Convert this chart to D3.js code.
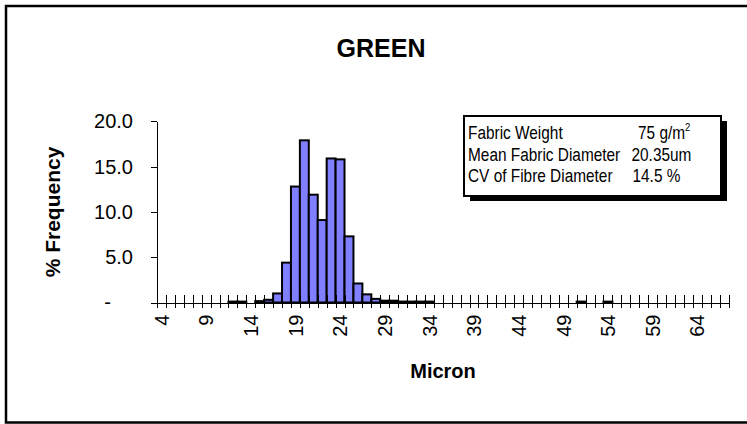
<!DOCTYPE html>
<html>
<head>
<meta charset="utf-8">
<script src="https://cdn.jsdelivr.net/npm/d3@7"></script>
<style>
  html, body { margin: 0; padding: 0; background: #fff; }
  svg { display: block; font-family: "Liberation Sans", Arial, Helvetica, sans-serif; }
</style>
</head>
<body>
<svg id="chart" width="747" height="424"></svg>
<script>
// ---- data ----
const categories = [4,5,6,7,8,9,10,11,12,13,14,15,16,17,18,19,20,21,22,23,24,25,26,27,28,29,30,31,32,33,34,35,
  36,37,38,39,40,41,42,43,44,45,46,47,48,49,50,51,52,53,54,55,56,57,58,59,60,61,62,63,64,65,66,67];
const frequency = [0,0,0,0,0,0,0,0,0.1,0.1,0,0.15,0.3,1.0,4.4,12.8,17.9,11.9,9.1,15.9,15.8,7.3,2.1,0.9,0.4,0.2,0.2,0.1,0.1,0.1,0.1,0,
  0,0,0,0,0,0,0,0,0,0,0,0,0,0,0,0.1,0,0,0.1,0,0,0,0,0,0,0,0,0,0,0,0,0];
const xTickLabels = [4,9,14,19,24,29,34,39,44,49,54,59,64];
const yTicks = [0,5,10,15,20];
const chartTitle = "GREEN";
const xTitle = "Micron";
const yTitle = "% Frequency";
const infoLabels = ["Fabric Weight", "Mean Fabric Diameter", "CV of Fibre Diameter"];
const infoValues = ["75 g/m", "20.35um", "14.5 %"];

// ---- layout ----
const svg = d3.select("#chart");
const pLeft = 157, pRight = 728.5, pTop = 121.3, pBottom = 302.5;

// frame
svg.append("rect").attr("x", 6).attr("y", 6).attr("width", 780).attr("height", 416.5)
  .attr("fill", "none").attr("stroke", "#000").attr("stroke-width", 2.5);

const x = d3.scaleBand().domain(categories).range([pLeft, pRight]).padding(0);
const xb = d3.scaleLinear().domain([0, categories.length]).range([pLeft, pRight]);
const y = d3.scaleLinear().domain([0, 20]).range([pBottom, pTop]);

// bars
svg.append("g").selectAll("rect")
  .data(categories.map((c, i) => ({c, v: frequency[i]})).filter(d => d.v > 0))
  .join("rect")
  .attr("x", d => x(d.c))
  .attr("width", x.bandwidth())
  .attr("y", d => y(d.v))
  .attr("height", d => y(0) - y(d.v))
  .attr("fill", "#7f7fff")
  .attr("stroke", "#000")
  .attr("stroke-width", 2);

// y axis
const yAxis = svg.append("g").attr("transform", `translate(${pLeft},0)`)
  .call(d3.axisLeft(y).tickValues(yTicks).tickSize(6).tickSizeOuter(0).tickPadding(18)
    .tickFormat(d => d === 0 ? "-" : d.toFixed(1)));
yAxis.selectAll("text").attr("font-size", 20).attr("font-family", "Liberation Sans, Arial, sans-serif")
  .attr("fill", "#000")
  .filter(d => d === 0).attr("x", -46);
yAxis.selectAll("line, path").attr("stroke", "#000").attr("shape-rendering", "crispEdges");

// x axis tick marks (at category boundaries, crossing the axis)
const xTicksG = svg.append("g").attr("transform", `translate(0,${pBottom})`)
  .call(d3.axisBottom(xb).tickValues(d3.range(0, categories.length + 1)).tickSize(5.5).tickSizeOuter(0).tickFormat(""));
xTicksG.selectAll(".tick line").attr("y1", -7.5);
xTicksG.selectAll("line, path").attr("stroke", "#000").attr("shape-rendering", "crispEdges");

// x axis labels
const xLab = svg.append("g").attr("transform", `translate(0,${pBottom})`)
  .call(d3.axisBottom(x).tickValues(xTickLabels).tickSize(0));
xLab.select(".domain").remove();
xLab.selectAll("text")
  .attr("font-size", 20).attr("font-family", "Liberation Sans, Arial, sans-serif").attr("fill", "#000")
  .attr("transform", "rotate(-90)")
  .attr("text-anchor", "end")
  .attr("x", -12)
  .attr("y", 0)
  .attr("dy", "0.36em");

// titles
svg.append("text").attr("x", 381).attr("y", 57).attr("text-anchor", "middle")
  .attr("font-size", 25).attr("font-weight", "bold").text(chartTitle);
svg.append("text").attr("x", 443).attr("y", 378).attr("text-anchor", "middle")
  .attr("font-size", 20).attr("font-weight", "bold").text(xTitle);
svg.append("text").attr("transform", "translate(60,212) rotate(-90)").attr("text-anchor", "middle")
  .attr("font-size", 21).attr("font-weight", "bold").text(yTitle);

// info box
const bx = 464, by = 116, bw = 257, bh = 80;
svg.append("rect").attr("x", bx + 6).attr("y", by + 5).attr("width", bw).attr("height", bh).attr("fill", "#000");
svg.append("rect").attr("x", bx).attr("y", by).attr("width", bw).attr("height", bh)
  .attr("fill", "#fff").attr("stroke", "#000").attr("stroke-width", 2);
const valueX = [638, 631.5, 632.5];
infoLabels.forEach((lab, i) => {
  const by0 = 139 + i * 21.5;
  svg.append("text").attr("transform", `translate(468,${by0}) scale(1,1.2)`).attr("font-size", 15.4).text(lab);
  const t = svg.append("text").attr("transform", `translate(${valueX[i]},${by0}) scale(1,1.2)`)
    .attr("font-size", 15.4).text(infoValues[i]);
  if (i === 0) t.append("tspan").attr("dy", -7).attr("font-size", 9.5).text("2");
});
</script>
</body>
</html>
